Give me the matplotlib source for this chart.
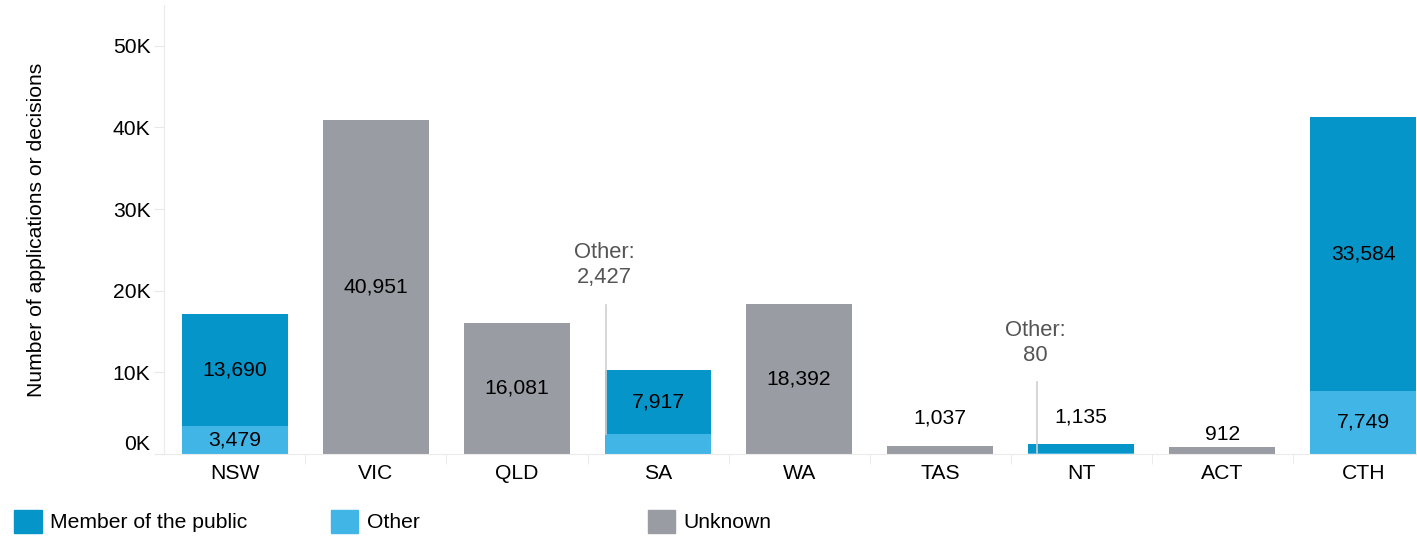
import matplotlib.pyplot as plt
from matplotlib.patches import Patch
import numpy as np

plt.rcParams['font.family'] = ['Liberation Sans', 'DejaVu Sans']

states = ['NSW', 'VIC', 'QLD', 'SA', 'WA', 'TAS', 'NT', 'ACT', 'CTH']
other = [3479, 0, 0, 2427, 0, 0, 80, 0, 7749]
member = [13690, 0, 0, 7917, 0, 0, 1135, 0, 33584]
unknown = [0, 40951, 16081, 0, 18392, 1037, 0, 912, 0]

C_MEMBER = '#0595C8'
C_OTHER = '#41B6E6'
C_UNKNOWN = '#999CA3'
FS = 15.2

fig = plt.figure(figsize=(14.17, 5.4), dpi=100)
ax = fig.add_axes([0.116, 0.159, 0.884, 0.832])

x = np.arange(len(states))
w = 0.75
other = np.array(other)
member = np.array(member)
unknown = np.array(unknown)

ax.bar(x, other, w, color=C_OTHER)
ax.bar(x, member, w, bottom=other, color=C_MEMBER)
ax.bar(x, unknown, w, bottom=other + member, color=C_UNKNOWN)

# labels inside big segments, above small bars
small = 3000
for i in range(len(states)):
    segs = [(other[i], 0), (member[i], other[i]), (unknown[i], other[i] + member[i])]
    total = other[i] + member[i] + unknown[i]
    if total < small:
        val = member[i] if member[i] else unknown[i]
        pad = 2 if states[i] == 'ACT' else 13
        ax.annotate(f'{val:,}', (i, total), xytext=(0, pad), textcoords='offset points',
                    ha='center', va='bottom', fontsize=FS, color='black')
        continue
    for v, b in segs:
        if v > small:
            ax.text(i, b + v / 2, f'{v:,}', ha='center', va='center', fontsize=FS, color='black')

# call-outs for thin "Other" segments
callouts = [(3, 2427, 2.628, 18200, 23200), (6, 80, 5.685, 8800, 13600)]
for i, v, lx, ltop, ty in callouts:
    ax.plot([lx, lx], [v, ltop], color='#cfcfcf', lw=1.2)
    ax.text(lx - 0.01, ty, f'Other:\n{v:,}', ha='center', va='center', fontsize=15.8,
            color='#555555', linespacing=1.25)

ax.set_xlim(-0.5, len(states) - 1 + w / 2 + 0.005)
ax.set_ylim(0, 55000)
ax.set_yticks(np.arange(0, 50001, 10000))
ax.set_yticklabels([f'{int(t / 1000)}K' for t in np.arange(0, 50001, 10000)], fontsize=FS)
ax.get_yticklabels()[0].set_va('bottom')
ax.set_xticks(x)
ax.set_xticklabels(states, fontsize=FS)
ax.set_xticks(x[:-1] + 0.5, minor=True)
ax.tick_params(axis='x', which='major', length=0, pad=7)
ax.tick_params(axis='x', which='minor', length=7, color='#e8e8e8', direction='out')
ax.tick_params(axis='y', length=7, color='#e8e8e8', pad=3)
ax.set_ylabel('Number of applications or decisions', fontsize=FS, labelpad=48)

for s in ['top', 'right']:
    ax.spines[s].set_visible(False)
for s in ['left', 'bottom']:
    ax.spines[s].set_color('#ebebeb')

# legend items at fixed spacing
legend_items = [('Member of the public', C_MEMBER), ('Other', C_OTHER), ('Unknown', C_UNKNOWN)]
for k, (name, col) in enumerate(legend_items):
    fig.legend(handles=[Patch(color=col, label=name)], loc='center left',
               bbox_to_anchor=(0.004 + k * 0.2235, 0.035), frameon=False, fontsize=FS,
               handlelength=1.3, handleheight=1.3, handletextpad=0.4, borderaxespad=0)

fig.savefig('out.png', dpi=100)
